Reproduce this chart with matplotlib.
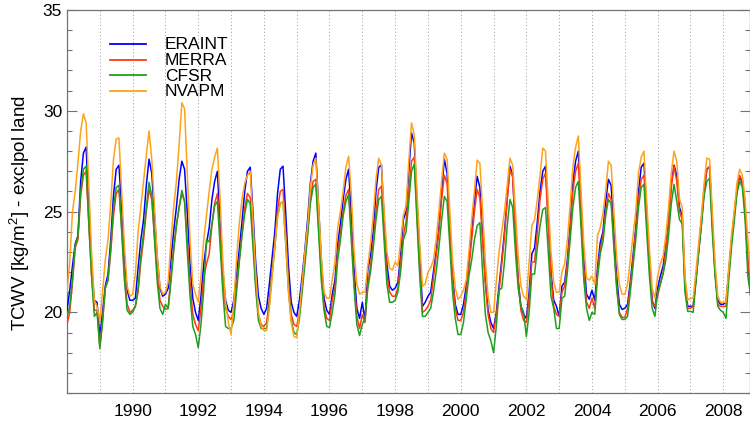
import numpy as np
import matplotlib
matplotlib.use("Agg")
import matplotlib.pyplot as plt
from matplotlib.ticker import MultipleLocator, FixedLocator

# monthly land TCWV (excl. polar), Jan 1988 .. Nov 2008, one row per year
eraint = [
    20.1, 21.1, 22.3, 23.4, 23.8, 26.5, 27.9, 28.2, 25.0, 22.3, 20.6, 20.5,
    18.8, 20.0, 21.3, 21.9, 23.6, 25.8, 27.1, 27.3, 25.1, 22.6, 21.1, 20.6,
    20.6, 20.7, 22.2, 23.6, 24.6, 26.3, 27.6, 26.9, 24.8, 22.7, 21.2, 20.8,
    20.9, 21.2, 22.6, 24.0, 25.2, 26.6, 27.5, 27.1, 24.9, 22.4, 20.7, 20.0,
    19.6, 20.8, 22.4, 23.4, 24.2, 25.6, 26.5, 27.0, 24.4, 22.0, 20.6, 20.1,
    20.0, 20.6, 21.9, 23.1, 24.5, 26.0, 27.0, 27.2, 25.0, 22.5, 20.8, 20.2,
    19.9, 20.2, 21.4, 22.7, 24.0, 25.9, 27.1, 27.25, 24.9, 22.3, 20.5, 20.0,
    19.8, 20.6, 21.8, 23.1, 24.6, 26.4, 27.5, 27.9, 25.2, 22.6, 20.7, 20.1,
    19.9, 20.9, 21.6, 23.4, 24.4, 25.6, 26.6, 27.1, 24.7, 22.1, 20.2, 19.7,
    20.5, 19.6, 22.1, 22.8, 24.0, 26.0, 27.2, 27.3, 24.6, 22.4, 21.3, 21.1,
    21.2, 21.5, 22.8, 24.6, 25.0, 27.0, 28.9, 28.4, 25.5, 22.8, 20.3, 20.5,
    20.8, 21.0, 22.0, 23.0, 24.2, 26.0, 27.6, 26.9, 24.2, 21.8, 20.4, 19.9,
    19.9, 20.4, 21.3, 22.6, 24.0, 25.5, 26.75, 26.2, 23.8, 21.6, 20.1, 19.5,
    19.2, 20.0, 21.3, 22.6, 24.0, 25.7, 27.25, 26.8, 24.0, 21.6, 20.3, 19.9,
    19.7, 21.0, 22.9, 23.2, 24.5, 26.0, 27.0, 27.25, 24.6, 22.0, 20.6, 20.3,
    19.8, 21.3, 21.5, 22.6, 24.3, 26.4, 27.5, 28.0, 25.3, 22.6, 20.9, 20.65,
    21.1, 20.6, 22.2, 23.45, 24.0, 25.5, 26.6, 26.3, 24.0, 21.8, 20.4, 20.15,
    20.2, 20.4, 21.5, 22.8, 24.2, 26.0, 27.2, 27.4, 25.0, 22.5, 20.6, 20.2,
    21.2, 21.8, 22.3, 23.3, 24.6, 26.4, 27.3, 26.8, 25.2, 24.8, 21.5, 20.3,
    20.3, 20.3, 21.6, 23.0, 24.4, 26.0, 27.1, 27.2, 24.5, 22.0, 20.6, 20.4,
    20.4, 20.5, 22.0, 23.6, 24.8, 26.0, 26.75, 26.4, 25.0, 22.6, 21.0,
]
merra = [
    19.4, 20.0, 21.5, 23.2, 23.6, 25.8, 26.8, 27.0, 24.3, 21.8, 20.1, 20.1,
    18.3, 19.6, 21.2, 21.6, 23.0, 24.8, 25.9, 26.1, 24.2, 21.9, 20.4, 20.0,
    20.1, 20.3, 21.0, 22.5, 23.6, 25.0, 26.1, 25.6, 23.8, 21.9, 20.6, 20.3,
    20.15, 20.2, 21.8, 23.2, 24.3, 25.2, 25.9, 25.5, 23.5, 21.5, 19.9, 19.4,
    19.1, 20.2, 21.7, 22.4, 22.9, 24.3, 25.4, 25.9, 23.8, 21.6, 20.2, 19.8,
    19.65, 20.0, 21.3, 22.6, 23.9, 25.2, 25.9, 25.7, 23.7, 21.4, 19.9, 19.4,
    19.3, 19.5, 20.6, 22.0, 23.4, 25.1, 26.0, 26.1, 23.9, 21.5, 19.9, 19.4,
    19.3, 20.0, 21.3, 22.6, 24.0, 25.6, 26.5, 26.6, 24.4, 22.0, 20.3, 19.7,
    19.6, 20.6, 21.2, 23.0, 23.9, 25.0, 25.8, 26.1, 23.9, 21.5, 19.8, 19.2,
    19.9, 19.5, 21.4, 22.3, 23.5, 25.0, 26.1, 26.26, 24.0, 21.9, 21.0, 20.8,
    20.8, 21.2, 22.5, 23.8, 24.5, 26.0, 27.5, 27.7, 24.9, 22.1, 20.0, 20.1,
    20.3, 20.6, 21.7, 22.8, 24.0, 25.6, 26.8, 26.4, 24.0, 21.7, 20.2, 19.6,
    19.6, 20.0, 21.0, 22.2, 23.6, 25.0, 26.1, 25.7, 23.5, 21.4, 19.9, 19.2,
    19.0, 19.9, 21.0, 22.4, 23.8, 25.6, 27.1, 26.7, 24.0, 21.6, 20.1, 19.6,
    19.5, 20.7, 22.5, 22.5, 24.0, 25.6, 26.6, 26.9, 24.3, 21.8, 20.3, 19.9,
    19.8, 21.0, 21.3, 22.4, 24.0, 26.0, 27.0, 27.4, 24.9, 22.2, 20.5, 20.2,
    20.7, 20.2, 22.0, 23.1, 23.8, 25.0, 25.9, 25.6, 23.5, 21.4, 20.0, 19.75,
    19.75, 20.2, 21.3, 22.6, 24.0, 25.6, 26.6, 26.8, 24.6, 22.3, 20.5, 20.3,
    20.8, 21.4, 22.0, 23.1, 24.4, 26.2, 27.25, 26.5, 25.0, 24.6, 21.3, 20.2,
    20.2, 20.3, 21.7, 23.1, 24.6, 26.1, 27.1, 27.25, 24.4, 22.0, 20.4, 20.3,
    20.3, 20.3, 21.9, 23.5, 24.8, 26.1, 26.8, 26.5, 24.9, 22.6, 21.0,
]
cfsr = [
    19.8, 20.3, 21.6, 23.3, 23.8, 26.0, 27.1, 27.25, 24.4, 21.8, 19.8, 20.0,
    18.2, 19.5, 21.2, 21.6, 23.2, 25.2, 26.2, 26.3, 24.0, 21.6, 20.1, 19.9,
    20.0, 20.3, 21.2, 22.8, 23.9, 25.2, 26.45, 25.8, 23.6, 21.5, 20.2, 19.9,
    20.4, 20.2, 21.5, 23.0, 24.3, 25.2, 26.05, 25.5, 23.0, 20.8, 19.3, 18.9,
    18.25, 19.4, 21.1, 23.6, 23.5, 24.4, 25.3, 25.5, 23.3, 21.0, 19.3, 19.2,
    19.2, 19.6, 21.0, 22.5, 23.8, 24.9, 25.6, 25.4, 23.3, 21.2, 19.6, 19.2,
    19.2, 19.2, 20.4, 21.9, 23.2, 24.8, 25.4, 25.5, 23.4, 21.1, 19.6, 19.0,
    18.9, 19.7, 21.0, 22.4, 23.8, 25.4, 26.2, 26.35, 24.0, 21.6, 20.1, 19.3,
    19.25, 20.0, 20.9, 22.6, 23.6, 24.8, 25.5, 25.85, 23.5, 21.2, 19.4, 18.85,
    19.4, 19.7, 21.2, 22.0, 23.2, 24.6, 25.6, 25.75, 23.5, 21.4, 20.5, 20.5,
    20.6, 21.0, 22.0, 23.6, 24.0, 25.5, 27.0, 27.35, 24.5, 21.8, 19.8, 19.8,
    20.0, 20.2, 21.0, 22.0, 23.2, 24.6, 25.75, 25.5, 23.3, 21.0, 19.7, 18.9,
    18.9, 19.5, 20.65, 21.8, 22.6, 23.6, 24.3, 24.45, 22.0, 19.9, 19.0, 18.6,
    18.0, 19.3, 21.1, 21.2, 22.5, 24.3, 25.6, 25.2, 23.0, 21.2, 20.3, 20.0,
    18.8, 20.0, 21.9, 21.9, 23.2, 24.3, 25.1, 25.2, 23.0, 20.8, 20.2, 19.2,
    19.2, 20.7, 20.8, 22.0, 23.6, 25.2, 26.2, 26.5, 24.2, 21.6, 20.2, 19.6,
    20.0, 19.9, 21.7, 22.9, 23.5, 24.8, 25.6, 25.4, 23.2, 21.2, 19.9, 19.65,
    19.65, 19.8, 21.0, 22.3, 23.6, 25.2, 26.2, 26.35, 24.0, 21.8, 20.2, 19.8,
    21.0, 21.4, 21.9, 22.6, 23.8, 25.4, 26.35, 25.5, 24.6, 24.4, 21.0, 20.05,
    20.05, 20.0, 21.5, 23.0, 24.3, 25.8, 26.5, 26.65, 24.0, 21.8, 20.3, 20.1,
    20.0, 19.7, 21.6, 23.2, 24.5, 25.9, 26.5, 26.2, 24.6, 21.8, 20.8,
]
nvapm = [
    21.0, 22.5, 25.0, 26.0, 27.4, 29.0, 29.85, 29.4, 26.2, 23.0, 20.6, 20.3,
    19.6, 21.0, 22.6, 23.6, 25.4, 27.6, 28.6, 28.65, 26.0, 23.3, 21.3, 20.8,
    20.9, 21.9, 24.0, 25.2, 26.5, 27.8, 29.0, 27.6, 25.2, 22.8, 21.3, 20.9,
    21.0, 21.5, 23.5, 25.2, 26.5, 28.3, 30.4, 30.1, 26.8, 23.6, 21.4, 20.9,
    20.5, 21.8, 23.6, 24.8, 26.0, 27.1, 27.7, 28.15, 25.6, 22.5, 20.5, 19.5,
    18.9, 20.5, 22.6, 24.4, 25.6, 26.4, 26.8, 27.0, 24.6, 22.0, 20.0, 19.3,
    19.1, 19.1, 20.2, 21.7, 23.3, 24.7, 25.4, 25.5, 23.5, 21.0, 19.5, 18.8,
    18.75, 20.0, 21.5, 23.0, 24.3, 26.2, 27.3, 27.65, 25.3, 22.8, 21.0, 20.7,
    20.7, 21.6, 22.5, 24.2, 25.0, 26.0, 27.2, 27.75, 25.8, 23.0, 21.4, 20.9,
    21.0, 21.0, 22.3, 23.4, 24.8, 26.6, 27.65, 27.3, 25.0, 23.0, 22.2, 22.1,
    22.5, 22.3, 23.5, 24.8, 25.3, 27.5, 29.4, 28.8, 26.0, 23.4, 21.3, 21.4,
    22.0, 22.2, 22.6, 23.6, 25.0, 26.5, 27.9, 27.6, 25.0, 22.6, 21.2, 20.65,
    20.8, 21.1, 21.6, 23.0, 24.6, 26.0, 27.55, 27.4, 25.0, 22.5, 20.8, 20.0,
    20.0, 21.5, 23.0, 24.0, 25.0, 26.3, 27.65, 27.3, 25.0, 22.8, 21.3, 20.8,
    20.65, 22.5, 24.3, 24.6, 25.6, 26.8, 28.15, 28.0, 25.4, 23.0, 21.5, 21.0,
    21.0, 22.0, 22.4, 23.6, 25.3, 27.2, 28.2, 28.75, 26.0, 23.4, 21.7, 21.6,
    21.8, 21.4, 23.8, 24.2, 24.9, 26.0, 27.5, 27.3, 25.0, 22.8, 21.4, 20.9,
    20.9, 21.4, 22.6, 23.8, 25.0, 26.9, 27.7, 28.0, 25.5, 23.2, 21.2, 20.7,
    21.8, 22.4, 22.8, 23.8, 25.2, 26.9, 28.0, 27.5, 25.6, 25.2, 21.8, 20.6,
    20.7, 20.7, 22.0, 23.4, 24.8, 26.4, 27.65, 27.6, 25.0, 22.5, 20.8, 20.5,
    20.5, 20.5, 22.2, 23.8, 25.0, 26.4, 27.1, 26.8, 25.6, 23.6, 21.8,
]

series_names = ["ERAINT", "MERRA", "CFSR", "NVAPM"]
series_colors = ["#0000ff", "#ff3a10", "#1f9e1f", "#ffa31a"]
start_year = 1988
year_labels = list(range(1990, 2009, 2))
year_lines = list(range(1989, 2009))

FONT = "Liberation Sans"
GRAY = "0.45"


def main():
    fig = plt.figure(figsize=(7.5, 4.22), dpi=100)
    ax = fig.add_axes([67 / 750, 29 / 422, 682.5 / 750, 383 / 422])

    n = len(eraint)
    t = start_year + np.arange(n) / 12.0  # month index -> decimal year

    handles = []
    for vals, name, col in zip([eraint, merra, cfsr, nvapm], series_names, series_colors):
        h, = ax.plot(t, vals, color=col, lw=1.1, label=name, zorder=3)
        handles.append(h)

    ax.set_xlim(1988.0, 2008.80)
    ax.set_ylim(16, 35)

    # dotted year lines
    for yr in year_lines:
        ax.axvline(yr, color="0.6", lw=0.7, ls=(0, (1, 2.5)), zorder=1)

    ax.xaxis.set_major_locator(FixedLocator(year_labels))
    ax.set_xticklabels([str(y) for y in year_labels], fontfamily=FONT, fontsize=12.5)
    ax.tick_params(axis="x", length=0, pad=8)

    ax.yaxis.set_major_locator(MultipleLocator(5))
    ax.yaxis.set_minor_locator(MultipleLocator(1))
    ax.tick_params(axis="y", which="both", direction="in", left=True, right=True,
                   color=GRAY, width=0.8, labelsize=12.5, pad=3.5)
    ax.tick_params(axis="y", which="major", length=7)
    ax.tick_params(axis="y", which="minor", length=3.5)
    for lab in ax.get_yticklabels():
        lab.set_fontfamily(FONT)

    for sp in ax.spines.values():
        sp.set_color(GRAY)
        sp.set_linewidth(0.9)

    fig.text(0.027, 0.494, "TCWV [kg/m$^2$] - exclpol land", rotation=90,
             ha="center", va="center", fontfamily=FONT, fontsize=13.5,
             math_fontfamily="custom")

    # legend drawn by hand: short line + label, tight rows like the original
    x0, x1, xt = 0.063, 0.1157, 0.1435
    rows = [0.8974, 0.8564, 0.8154, 0.7744]
    for h, yb in zip(handles, rows):
        ax.plot([x0, x1], [yb + 0.014] * 2, transform=ax.transAxes,
                color=h.get_color(), lw=1.3, clip_on=False, zorder=4)
        ax.text(xt, yb, h.get_label(), transform=ax.transAxes, va="baseline",
                ha="left", fontfamily=FONT, fontsize=12.5, zorder=4)

    fig.savefig("out.png", dpi=100)
    plt.close(fig)


if __name__ == "__main__":
    plt.rcParams["mathtext.fontset"] = "custom"
    plt.rcParams["mathtext.rm"] = FONT
    plt.rcParams["mathtext.it"] = FONT + ":italic"
    main()
